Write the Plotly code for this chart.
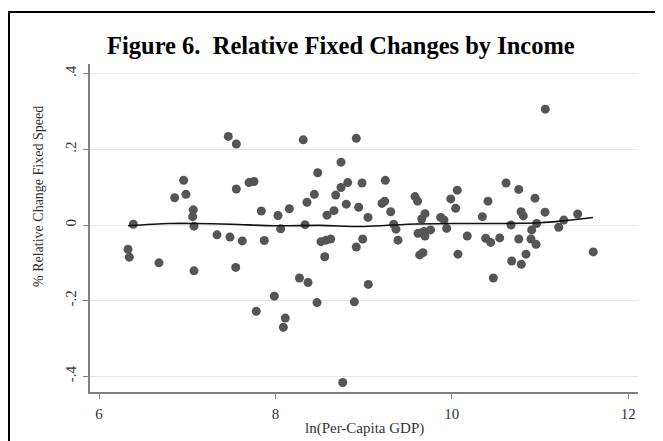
import plotly.graph_objects as go

# Scatter data: ln(per-capita GDP) vs % relative change in fixed speed
gdp = [6.329, 6.344, 6.389, 6.680, 6.858, 6.960, 6.986, 7.069, 7.062, 7.077, 7.077,
       7.466, 7.557, 8.316, 7.557, 7.701, 7.757, 7.840, 8.029, 8.158, 8.358, 8.060,
       8.336, 7.338, 7.485, 7.625, 7.874, 7.550, 8.273, 8.370, 7.988, 7.783, 8.112, 8.090,
       8.917, 8.744, 8.480, 8.441, 8.684, 8.744, 8.820, 8.982, 9.246, 8.804, 8.944, 9.050,
       8.585, 8.664, 9.209, 9.239, 9.307, 9.341, 9.367, 9.390, 8.517, 8.574, 8.627, 8.559,
       8.990, 8.917, 8.472, 8.895, 9.053, 8.763,
       9.583, 9.613, 10.062, 9.988, 10.044, 10.410, 10.615, 10.759, 9.696, 9.659, 9.874,
       9.912, 9.942, 10.346, 10.671, 10.785, 10.811, 9.617, 9.685, 9.759, 9.696, 10.175,
       10.384, 10.441, 10.543, 10.759, 9.636, 9.673, 10.070, 10.679, 10.788, 10.471,
       11.060, 10.943, 11.057, 11.427, 11.269, 11.212, 10.962, 10.906, 10.898, 10.955,
       10.841, 11.604]
change = [-0.064, -0.085, 0.002, -0.100, 0.072, 0.118, 0.081, 0.040, 0.022, -0.003, -0.121,
          0.234, 0.214, 0.225, 0.095, 0.112, 0.115, 0.037, 0.025, 0.043, 0.060, -0.010,
          0.001, -0.026, -0.032, -0.042, -0.041, -0.112, -0.140, -0.152, -0.188, -0.228, -0.246, -0.270,
          0.229, 0.166, 0.138, 0.081, 0.079, 0.099, 0.112, 0.111, 0.118, 0.055, 0.047, 0.020,
          0.026, 0.038, 0.057, 0.063, 0.035, 0.002, -0.011, -0.040, -0.044, -0.040, -0.037, -0.084,
          -0.037, -0.058, -0.205, -0.203, -0.157, -0.416,
          0.075, 0.063, 0.092, 0.069, 0.044, 0.063, 0.111, 0.094, 0.030, 0.016, 0.020,
          0.013, -0.009, 0.022, 0.000, 0.035, 0.024, -0.022, -0.017, -0.013, -0.029, -0.029,
          -0.035, -0.046, -0.034, -0.037, -0.079, -0.073, -0.077, -0.095, -0.104, -0.140,
          0.306, 0.071, 0.034, 0.029, 0.013, -0.006, 0.004, -0.013, -0.037, -0.051,
          -0.077, -0.071]

# Smoothed (lowess) fit line
fit_x = [6.33, 6.8, 7.1, 7.5, 8.0, 8.5, 9.0, 9.5, 10.0, 10.5, 11.0, 11.3, 11.6]
fit_y = [-0.002, 0.004, 0.004, 0.002, -0.002, -0.001, -0.004, 0.002, 0.004, 0.004, 0.006, 0.012, 0.020]

y_ticks = [-0.4, -0.2, 0, 0.2, 0.4]
y_tick_labels = ["-.4", "-.2", "0", ".2", ".4"]
x_ticks = [6, 8, 10, 12]

SERIF = "Liberation Serif"

# page body has an 8px margin: figure is sized/placed to compensate
W, H = 655, 433
PL, PT, PW, PH = 82, 56, 548, 328


def px_x(vx):  # viewport pixel -> paper x
    return (vx - 8 - PL) / PW


def px_y(vy):  # viewport pixel -> paper y
    return (PT + PH - (vy - 8)) / PH


fig = go.Figure()
fig.add_trace(go.Scatter(
    x=gdp, y=change, mode="markers",
    marker=dict(size=9, color="#555555", line=dict(width=0)),
    showlegend=False, hoverinfo="skip"))
fig.add_trace(go.Scatter(
    x=fit_x, y=fit_y, mode="lines",
    line=dict(color="#111111", width=1.6, shape="spline"),
    showlegend=False, hoverinfo="skip"))

fig.update_layout(
    width=W, height=H,
    margin=dict(l=PL, r=W - PL - PW, t=PT, b=H - PT - PH),
    paper_bgcolor="white", plot_bgcolor="white",
    font=dict(family=SERIF, color="#222222"),
    xaxis=dict(range=[5.898, 12.111], tickvals=x_ticks, showgrid=False, zeroline=False,
               showline=True, linecolor="#808080", linewidth=1.5,
               ticks="outside", ticklen=5, tickcolor="#808080", ticklabelstandoff=2,
               tickfont=dict(family=SERIF, size=15, color="#333333")),
    yaxis=dict(range=[-0.4412, 0.4254], tickvals=y_ticks, ticktext=y_tick_labels,
               tickangle=-90, showgrid=True, gridcolor="#e6e6e6", gridwidth=1,
               zeroline=False, showline=True, linecolor="#808080", linewidth=1.5,
               ticks="outside", ticklen=5, tickcolor="#808080", ticklabelstandoff=1,
               tickfont=dict(family=SERIF, size=15, color="#333333")),
    annotations=[
        dict(text="<b>Figure 6.  Relative Fixed Changes by Income</b>", xref="paper", yref="paper",
             x=px_x(341), y=px_y(45), showarrow=False,
             font=dict(family=SERIF, size=24.5, color="black"), xanchor="center", yanchor="middle"),
        dict(text="ln(Per-Capita GDP)", xref="paper", yref="paper",
             x=0.5, y=px_y(428), showarrow=False,
             font=dict(family=SERIF, size=15, color="#333333"), xanchor="center", yanchor="middle"),
        dict(text="% Relative Change Fixed Speed", xref="paper", yref="paper", textangle=-90,
             x=px_x(38), y=px_y(197), showarrow=False,
             font=dict(family=SERIF, size=14, color="#333333"), xanchor="center", yanchor="middle"),
    ],
    shapes=[dict(type="rect", xref="paper", yref="paper",
                 x0=px_x(9), x1=px_x(661),
                 y0=px_y(450), y1=px_y(12),
                 line=dict(color="black", width=2), fillcolor="rgba(0,0,0,0)", layer="above")],
)

fig.write_html("out.html")
